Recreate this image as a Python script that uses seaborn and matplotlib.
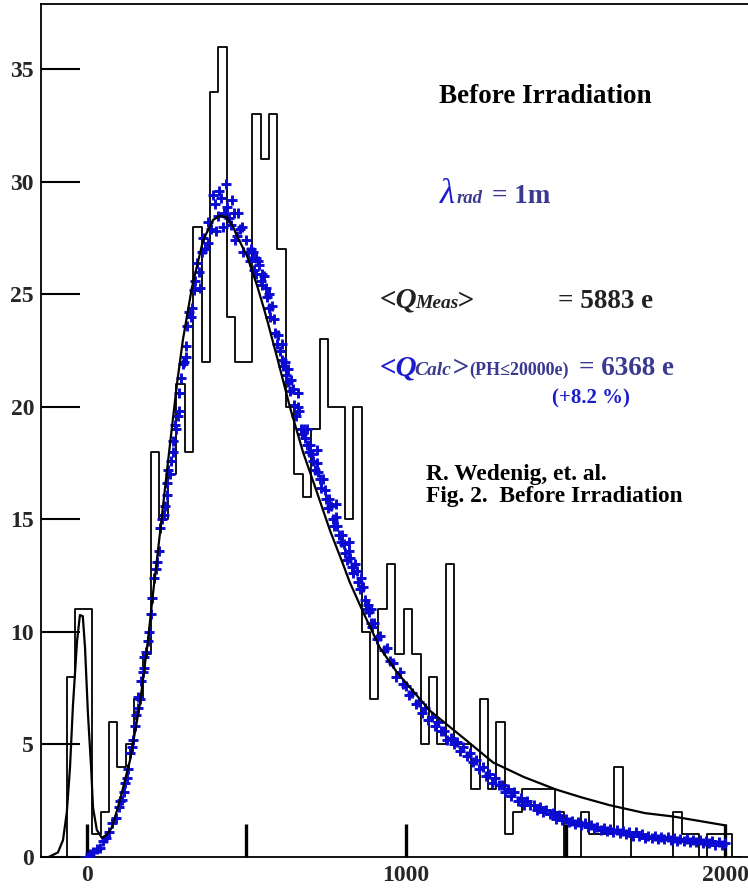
import pandas as pd
import seaborn as sns
import matplotlib.pyplot as plt

# measured pulse height histogram (counts per bin, empty bins at both ends)
counts = [0, 8, 11, 11, 1, 2, 6, 4, 5, 7, 9,
          18, 15, 17, 21, 18, 28, 22, 34, 36, 24,
          22, 22, 33, 31, 33, 27, 20, 17, 16, 19,
          23, 20, 20, 15, 20, 10, 7, 11, 13, 9,
          11, 9, 5, 8, 5, 13, 5, 5, 3, 7,
          3, 6, 1, 2, 3, 3, 3, 3, 2, 0,
          0, 2, 1, 1, 1, 4, 1, 0, 0, 0,
          0, 0, 2, 1, 1, 0, 1, 1, 1, 0]
bin_start = -89.4
bin_width = 26.4

# fitted curve (pedestal + landau-like)
fit_x = [-120, -91, -75, -63, -53, -44, -31, -22, -13, -6, 3, 13, 19, 31, 47, 63, 78,
         103, 135, 166, 191, 207, 229, 260, 282, 301, 329, 364, 395, 417, 439, 458,
         470, 502, 533, 552, 564, 596, 636, 677, 721, 762, 803, 824, 865, 918, 972,
         1075, 1179, 1273, 1370, 1470, 1550, 1639, 1749, 1837, 2003]
fit_y = [0, 0.2, 0.75, 2.0, 4.0, 6.7, 9.6, 10.75, 10.7, 9.3, 6.4, 4.0, 2.2, 1.2, 0.85, 1.0, 1.3,
         2.5, 4.3, 6.8, 9.6, 11.7, 14.4, 18.3, 21.0, 23.0, 25.3, 27.4, 28.3, 28.5, 28.4, 28.0,
         27.6, 26.7, 25.4, 24.5, 23.9, 22.2, 20.0, 18.0, 16.2, 14.5, 13.0, 12.2, 10.9, 9.3, 8.2,
         6.5, 5.3, 4.2, 3.55, 3.0, 2.65, 2.3, 1.95, 1.8, 1.4]

# calculated spectrum (blue crosses)
sim_x = list(range(0, 2001, 10))
sim_y = [0.0, 0.12, 0.2, 0.35, 0.4, 0.7, 0.85, 1.1, 1.5, 1.75,
         2.2, 2.55, 3.3, 3.9, 4.9, 5.8, 6.6, 7.8, 8.4, 9.6,
         10.8, 12.4, 13.1, 14.6, 15.2, 16.6, 17.0, 18.5, 19.0, 20.6,
         21.9, 22.7, 24.2, 24.4, 25.6, 26.0, 26.9, 27.0, 28.2, 27.9,
         29.0, 28.5, 29.3, 28.6, 28.9, 28.1, 28.6, 27.6, 27.9, 26.9,
         27.4, 26.5, 26.9, 25.9, 26.3, 25.4, 25.3, 24.4, 24.5, 23.3,
         23.2, 22.1, 22.0, 21.1, 21.2, 20.1, 20.0, 19.0, 19.0, 18.3,
         18.3, 17.6, 17.5, 16.8, 16.8, 15.9, 15.9, 15.0, 15.1, 14.3,
         14.3, 13.5, 13.6, 12.9, 13.0, 12.2, 12.4, 11.4, 11.2, 10.4,
         10.4, 9.7, 9.8, 9.2, 9.3, 8.7, 8.6, 8.0, 8.2, 7.7,
         7.6, 7.2, 7.3, 6.8, 6.9, 6.4, 6.6, 6.1, 6.2, 5.8,
         6.0, 5.6, 5.6, 5.2, 5.3, 5.0, 5.1, 4.7, 4.9, 4.5,
         4.6, 4.2, 4.3, 3.9, 4.0, 3.6, 3.7, 3.3, 3.5, 3.2,
         3.2, 2.9, 3.0, 2.7, 2.9, 2.5, 2.6, 2.3, 2.5, 2.3,
         2.3, 2.1, 2.2, 2.0, 2.1, 1.9, 1.95, 1.7, 1.85, 1.65,
         1.7, 1.55, 1.6, 1.45, 1.55, 1.4, 1.5, 1.35, 1.4, 1.3,
         1.35, 1.2, 1.3, 1.15, 1.25, 1.1, 1.2, 1.05, 1.15, 1.0,
         1.1, 0.95, 1.1, 0.95, 1.0, 0.85, 0.95, 0.85, 0.95, 0.8,
         0.9, 0.8, 0.9, 0.75, 0.85, 0.7, 0.8, 0.7, 0.8, 0.65,
         0.75, 0.65, 0.75, 0.6, 0.7, 0.6, 0.7, 0.55, 0.65, 0.55,
         0.62]
rise_x = [105, 115, 125, 135, 145, 155, 165, 175, 185, 195, 205, 215,
          225, 235, 245, 255, 265, 275, 285, 295, 305, 315, 325, 335]
rise_y = [2.5, 2.9, 3.5, 4.6, 5.2, 6.3, 7.0, 8.2, 9.1, 10.0, 11.5, 12.8,
          13.6, 15.0, 15.6, 17.2, 17.6, 19.2, 19.6, 21.3, 22.0, 23.6, 24.0, 25.2]
peak_x = [160, 180, 250, 270, 290, 310, 345, 355, 365, 380, 395, 405, 415, 425, 435,
          445, 455, 465, 475, 485, 530, 550, 570, 610, 630, 660, 690, 720, 780, 820, 890]
peak_y = [7.1, 8.9, 16.1, 18.0, 19.8, 22.2, 26.4, 25.3, 27.5, 27.3, 29.4, 27.8, 29.6, 28.0, 29.9,
          28.4, 29.2, 27.4, 28.6, 28.0, 26.6, 25.9, 25.0, 22.8, 21.7, 20.6, 19.0, 18.1, 15.7, 14.0, 11.0]
fall_x = [505, 515, 525, 535, 545, 555, 565, 575, 585, 595, 605, 615, 625, 635,
          645, 655, 665, 675, 685, 695, 705, 715, 725, 735, 745, 755, 765, 775,
          785, 795, 805, 815, 825, 835, 845, 855, 865, 875, 885, 895]
fall_y = [26.9, 27.0, 26.1, 26.5, 25.6, 25.8, 24.9, 24.0, 23.9, 22.8, 22.5, 21.8, 21.4, 20.7,
          20.8, 19.6, 19.8, 18.8, 18.6, 18.0, 17.9, 17.2, 17.1, 16.4, 16.3, 15.5, 15.6, 14.7,
          14.7, 14.0, 13.9, 13.2, 13.3, 12.6, 12.7, 11.9, 12.0, 11.0, 10.9, 10.2]

W, H = 748, 892
sns.set_style("white")
plt.rcParams["font.family"] = ["Liberation Serif", "DejaVu Serif"]
plt.rcParams["font.weight"] = "bold"

fig = plt.figure(figsize=(W / 100, H / 100), dpi=100)
ax = fig.add_axes([41 / W, 35 / H, (W - 41) / W, 853 / H])

edges = [bin_start + bin_width * k for k in range(len(counts) + 1)]
hist = pd.DataFrame({"pos": [e + bin_width / 2 for e in edges[:-1]], "n": counts})
sns.histplot(data=hist, x="pos", weights="n", bins=edges, element="step",
             fill=False, color="black", linewidth=1.3, ax=ax)

pts = pd.DataFrame({"x": sim_x + rise_x + peak_x + fall_x,
                    "y": sim_y + rise_y + peak_y + fall_y})
sns.scatterplot(data=pts, x="x", y="y", marker="+", s=58, color="#0a0ad2",
                linewidth=2.1, ax=ax, zorder=3)

sns.lineplot(x=fit_x, y=fit_y, sort=False, estimator=None, color="black",
             linewidth=1.6, ax=ax, zorder=4)

ax.set_xlim(-144, 2072)
ax.set_ylim(0, 37.9)
ax.set_xlabel("")
ax.set_ylabel("")
ax.set_xticks([0, 500, 1000, 1500, 2000], labels=["0", "", "1000", "", "2000"])
ax.set_yticks(range(0, 36, 5))
ax.tick_params(axis="y", left=True, direction="in", length=28, width=1.5,
               labelsize=17, pad=5, color="black")
ax.tick_params(axis="x", bottom=True, direction="in", length=24, width=2.4,
               labelsize=17, pad=6, color="black")
for lab in ax.get_xticklabels() + ax.get_yticklabels():
    lab.set_fontweight("bold")
for side in ["left", "bottom", "top"]:
    ax.spines[side].set_linewidth(1.3)
    ax.spines[side].set_color("black")
ax.spines["right"].set_visible(False)


def put(px, py, s, **kw):
    kw.setdefault("fontweight", "bold")
    fig.text(px / W, 1 - py / H, s, va="baseline", ha="left", **kw)


slate = "#3a3a90"
blue = "#1c1ccc"
dark = "#222222"

put(439, 103, "Before Irradiation", fontsize=19.5, color="black")

put(440, 203, "λ", fontsize=25, color=blue, style="italic", fontweight="normal")
put(457, 203, "rad", fontsize=13.5, color=slate, style="italic")
put(492, 203, "= 1m", fontsize=19.5, color=slate)

put(380, 308, "<Q", fontsize=21, color=dark, style="italic")
put(415, 308, "Meas", fontsize=14, color=dark, style="italic")
put(457, 308, ">", fontsize=21, color=dark, style="italic")
put(558, 308, "= 5883 e", fontsize=19.5, color=dark)

put(380, 375, "<Q", fontsize=21, color=blue, style="italic")
put(414, 375, "Calc", fontsize=14, color=slate, style="italic")
put(452, 375, ">", fontsize=21, color=slate, style="italic")
put(469, 375, "(PH≤20000e)", fontsize=13, color=slate)
put(579, 375, "= 6368 e", fontsize=19.5, color=slate)
put(552, 403, "(+8.2 %)", fontsize=15, color=blue)

put(426, 480, "R. Wedenig, et. al.", fontsize=16.8, color="black")
put(426, 502, "Fig. 2.  Before Irradiation", fontsize=16.8, color="black")

fig.savefig("out.png", dpi=100)
